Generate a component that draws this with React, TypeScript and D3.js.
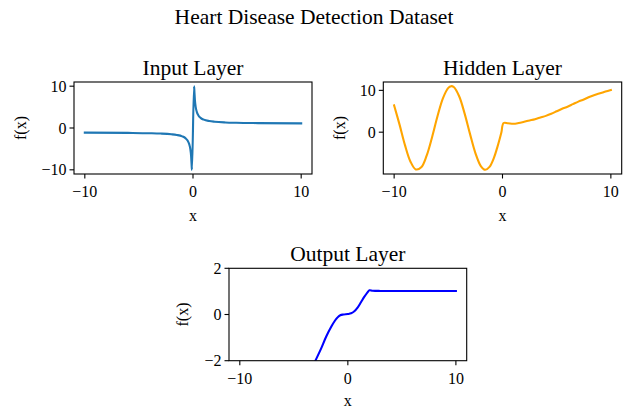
import React from "react";
import * as d3 from "d3";

const FIG_TITLE = "Heart Disease Detection Dataset";

// Input layer curve
const inputX = [-10, -6, -4, -3, -2, -1.5, -1, -0.7, -0.5, -0.35, -0.25, -0.18, -0.13, -0.1, 0.1, 0.13, 0.18, 0.25, 0.35, 0.5, 0.7, 1, 1.5, 2, 3, 4, 6, 10];
const inputY = [-1.1, -1.17, -1.25, -1.33, -1.5, -1.67, -2, -2.43, -3, -3.86, -5, -6.56, -8.7, -10, 10, 8.7, 6.56, 5, 3.86, 3, 2.43, 2, 1.67, 1.5, 1.33, 1.25, 1.17, 1.1];

// Hidden layer curve
const hiddenX = [-10, -9.5, -9, -8.5, -8, -7.5, -7, -6.5, -6, -5.5, -5, -4.75, -4.5, -4, -3.5, -3, -2.5, -2, -1.6, -1.2, -0.8, -0.5, -0.25, -0.1, 0.1, 0.5, 1, 1.5, 2, 2.5, 3, 3.5, 4, 4.5, 5, 5.5, 6, 6.5, 7, 7.5, 8, 8.5, 9, 9.5, 10];
const hiddenY = [6.4, 1.8, -3.1, -7.0, -8.9, -8.4, -5.6, -1.2, 3.8, 8.1, 10.6, 11.0, 10.8, 8.6, 4.5, -0.4, -5.0, -8.1, -9.0, -8.3, -6.2, -3.8, -1.5, 0.0, 2.2, 2.15, 2.0, 2.2, 2.5, 2.8, 3.1, 3.5, 3.9, 4.4, 5.0, 5.6, 6.1, 6.7, 7.3, 7.8, 8.4, 8.9, 9.3, 9.7, 10.1];

// Output layer curve
const outputX = [-10, -5, -3, -2.5, -2, -1.5, -1.2, -1, -0.7, -0.4, 0, 0.3, 0.6, 0.9, 1.2, 1.5, 1.8, 2.0, 2.3, 3, 10];
const outputY = [-9, -4, -2, -1.5, -0.95, -0.5, -0.27, -0.15, -0.03, 0.0, 0.02, 0.05, 0.14, 0.3, 0.52, 0.75, 0.95, 1.05, 1.03, 1.02, 1.02];

const xTicks = [-10, 0, 10];
const inputYTicks = [-10, 0, 10];
const hiddenYTicks = [0, 10];
const outputYTicks = [-2, 0, 2];

const FONT = "'Liberation Serif', 'Times New Roman', serif";

type PanelProps = {
  id: string;
  title: string;
  xs: number[];
  ys: number[];
  yDomain: [number, number];
  yTicks: number[];
  color: string;
  left: number;
  right: number;
  top: number;
  bottom: number;
  ylabelOffset: number;
  smooth: boolean;
  xlabelOffset: number;
};

const fmt = (v: number) => (v < 0 ? "\u2212" + Math.abs(v) : String(v));

function Panel(p: PanelProps) {
  const x = d3.scaleLinear().domain([-11, 11]).range([p.left, p.right]);
  const y = d3.scaleLinear().domain(p.yDomain).range([p.bottom, p.top]);
  const pts: [number, number][] = p.xs.map((v, i) => [v, p.ys[i]]);
  const line = d3
    .line<[number, number]>()
    .x((d) => x(d[0]))
    .y((d) => y(d[1]))
    .curve(p.smooth ? d3.curveCatmullRom.alpha(0.5) : d3.curveMonotoneX);
  const tick = 4.5;
  return (
    <g>
      <defs>
        <clipPath id={p.id}>
          <rect x={p.left} y={p.top} width={p.right - p.left} height={p.bottom - p.top} />
        </clipPath>
      </defs>
      <path d={line(pts) || ""} fill="none" stroke={p.color} strokeWidth={2.1} clipPath={`url(#${p.id})`} strokeLinejoin="round" strokeLinecap="square" />
      <rect x={p.left} y={p.top} width={p.right - p.left} height={p.bottom - p.top} fill="none" stroke="#000" strokeWidth={1.1} />
      {xTicks.map((t) => (
        <g key={"x" + t}>
          <line x1={x(t)} x2={x(t)} y1={p.bottom} y2={p.bottom + tick} stroke="#000" strokeWidth={1.1} />
          <text x={x(t)} y={p.bottom + 23} textAnchor="middle" fontSize={16} fontFamily={FONT}>
            {fmt(t)}
          </text>
        </g>
      ))}
      {p.yTicks.map((t) => (
        <g key={"y" + t}>
          <line x1={p.left - tick} x2={p.left} y1={y(t)} y2={y(t)} stroke="#000" strokeWidth={1.1} />
          <text x={p.left - 7.5} y={y(t)} dy="0.35em" textAnchor="end" fontSize={16} fontFamily={FONT}>
            {fmt(t)}
          </text>
        </g>
      ))}
      <text x={(p.left + p.right) / 2} y={p.bottom + p.xlabelOffset} textAnchor="middle" fontSize={16} fontFamily={FONT}>
        x
      </text>
      <text
        transform={`translate(${p.left - p.ylabelOffset},${(p.top + p.bottom) / 2}) rotate(-90)`}
        textAnchor="middle"
        fontSize={16}
        fontFamily={FONT}
      >
        f(x)
      </text>
      <text x={(p.left + p.right) / 2} y={p.top - 7.5} textAnchor="middle" fontSize={21.5} fontFamily={FONT}>
        {p.title}
      </text>
    </g>
  );
}

export default function App() {
  return (
    <svg width={628} height={408} style={{ position: "absolute", left: 0, top: 0, background: "#fff" }}>
      <rect width={628} height={408} fill="#fff" />
      <text x={314} y={24} textAnchor="middle" fontSize={21.5} fontFamily={FONT}>
        {FIG_TITLE}
      </text>
      <Panel id="c1" title="Input Layer" xs={inputX} ys={inputY} yDomain={[-11, 11]} yTicks={inputYTicks} color="#1f77b4" left={74} right={312} top={82} bottom={174} ylabelOffset={48.5} smooth={false} xlabelOffset={46.5} />
      <Panel id="c2" title="Hidden Layer" xs={hiddenX} ys={hiddenY} yDomain={[-10, 12]} yTicks={hiddenYTicks} color="#ffa500" left={383.3} right={621.7} top={82} bottom={174} ylabelOffset={38.8} smooth={true} xlabelOffset={46.5} />
      <Panel id="c3" title="Output Layer" xs={outputX} ys={outputY} yDomain={[-2, 2]} yTicks={outputYTicks} color="#0000ff" left={229} right={466.7} top={268.3} bottom={360.7} ylabelOffset={41.5} smooth={true} xlabelOffset={45} />
    </svg>
  );
}
